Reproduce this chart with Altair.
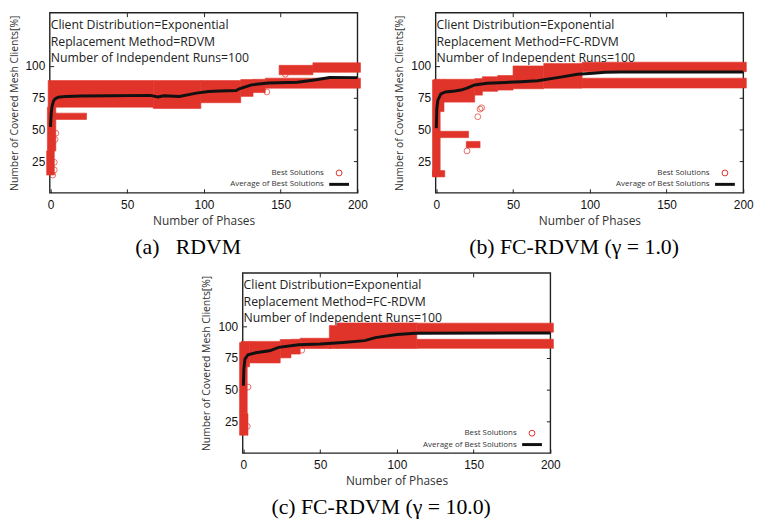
import altair as alt
import pandas as pd

RED = "#e0342a"
W, H = 311, 182
XDOM = [-0.5, 200]
YDOM = [0, 142]
X_TICKS = [0, 50, 100, 150, 200]
Y_TICKS = [25, 50, 75, 100]
SERIES = ["Best Solutions", "Average of Best Solutions"]

# ---------- panel (a) RDVM ----------
a_blk_x0 = [-2.5, -2, -1.5, 67, 98, 124, 132, 140, 149, 171, 1]
a_blk_x1 = [2.5, 3.5, 67, 98, 124, 132, 140, 202, 171, 202, 23.5]
a_blk_y0 = [14, 33, 67.5, 66.5, 71, 76, 79, 82.5, 93, 95, 57.8]
a_blk_y1 = [33, 67.5, 88.5, 88.5, 88.5, 89.3, 89.5, 90.4, 100.5, 102.5, 62.8]
a_out_x = [1.5, 2.5, 2.5, 3, 3.5, 141, 153]
a_out_y = [14, 18, 24, 42, 47, 79.5, 93.5]
a_avg_x = [0, 0.5, 1, 2, 3, 5, 10, 20, 40, 65, 70, 74, 84, 95, 103, 110, 121, 123, 131, 142, 161, 172, 182, 200]
a_avg_y = [52, 63, 68, 72.5, 74, 75.3, 76, 76.3, 76.5, 76.8, 75.5, 76.5, 76, 78.6, 79.8, 80.2, 80.7, 82, 85.1, 86.5, 87.2, 89, 90.9, 90.8]

# ---------- panel (b) FC-RDVM gamma=1.0 ----------
b_blk_x0 = [-2.5, -1.5, 5, 25, 30, 40, 50, 70, 95, 95, 1, 19.5, -2.5]
b_blk_x1 = [2.5, 5, 25, 30, 40, 50, 70, 95, 202, 202, 21, 28.5, 5.5]
b_blk_y0 = [13, 64, 71.5, 77, 80, 81, 82, 82.5, 82.6, 95.5, 43.5, 35.5, 12.5]
b_blk_y1 = [89, 89.5, 89.5, 90, 91.5, 92.5, 100, 102, 90.4, 103, 48.5, 40.5, 17.5]
b_out_x = [20, 27, 28.5, 29.5]
b_out_y = [33, 60, 66, 67]
b_avg_x = [0, 0.3, 1, 3, 6, 12, 16, 20, 25, 33, 45, 55, 66, 80, 92, 102, 110, 120, 200]
b_avg_y = [51, 66, 73, 78, 79.5, 80.2, 81, 82.5, 85, 86.3, 87, 87.5, 88.3, 91, 93.5, 94.3, 95, 95.2, 95.2]

# ---------- panel (c) FC-RDVM gamma=10.0 ----------
c_blk_x0 = [-2.5, -2.5, -1.5, 4, 24, 31, 37, 56, 61, 113, 113]
c_blk_x1 = [3, 2.5, 4, 24, 31, 37, 57, 61, 113, 202, 202]
c_blk_y0 = [14, 31, 68, 71, 75, 78, 82.4, 82.4, 82.4, 82.5, 95.3]
c_blk_y1 = [31, 87, 88, 88, 89.5, 89.7, 90.5, 100.5, 102.6, 89.7, 102.4]
c_out_x = [3, 38, 2.5]
c_out_y = [52, 81, 21]
c_avg_x = [0, 0.3, 1, 3, 8, 17, 23, 36, 50, 65, 79, 86, 100, 112, 200]
c_avg_y = [53, 66, 74, 77.5, 79, 80.6, 83.3, 85.3, 86, 87.2, 88.6, 91, 93.5, 94.5, 94.6]

methods = ["RDVM", "FC-RDVM", "FC-RDVM"]
captions = ["(a)\u00a0\u00a0\u00a0RDVM", "(b) FC-RDVM (\u03b3 = 1.0)", "(c) FC-RDVM (\u03b3 = 10.0)"]


def panel(bx0, bx1, by0, by1, ox, oy, axx, axy, method, caption):
    xs = alt.Scale(domain=XDOM, nice=False, zero=False)
    ys = alt.Scale(domain=YDOM, nice=False, zero=False)
    lab = dict(labelFont="Liberation Sans", labelFontSize=12, labelColor="#111")
    main_x = alt.Axis(title="Number of Phases", values=X_TICKS, ticks=False, tickSize=0,
                      domain=False, grid=False, labelFlush=False, labelPadding=7,
                      titleFont="Open Sans", titleFontSize=12, titleFontWeight="normal",
                      titleColor="#333", titlePadding=5, **lab)
    main_y = alt.Axis(title="Number of Covered Mesh Clients[%]", values=Y_TICKS, ticks=False,
                      tickSize=0, domain=False, grid=False, labelPadding=5,
                      titleFont="Open Sans", titleFontSize=10.5, titleFontWeight="normal",
                      titleColor="#333", titlePadding=6, **lab)
    tk = dict(labels=False, domain=False, grid=False, ticks=True, tickSize=4,
              tickColor="#222", tickWidth=1, title=None)
    in_bottom = alt.Axis(orient="top", offset=-H, values=X_TICKS, **tk)
    in_top = alt.Axis(orient="bottom", offset=-H, values=X_TICKS[1:-1], **tk)
    in_left = alt.Axis(orient="right", offset=-W, values=Y_TICKS, **tk)
    in_right = alt.Axis(orient="left", offset=-W, values=Y_TICKS, **tk)

    legend = alt.Legend(title=None, orient="none", legendX=286, legendY=158,
                        labelAlign="right", labelOffset={"expr": "-22"},
                        rowPadding=0, padding=0, labelFont="Open Sans",
                        labelFontSize=8, labelColor="#333", symbolOffset=0,
                        symbolOpacity=1)
    cs = alt.Scale(domain=SERIES, range=[RED, "#111111"])
    ss = alt.Scale(domain=SERIES, range=["circle", "M-2,0H2"])
    zs = alt.Scale(domain=SERIES, range=[35, 100])
    ws = alt.Scale(domain=SERIES, range=[1, 3])

    df_b = pd.DataFrame({"x0": bx0, "x1": bx1, "y0": by0, "y1": by1})
    df_p = pd.DataFrame({"x": ox, "y": oy, "series": SERIES[0]})
    df_l = pd.DataFrame({"x": axx, "y": axy, "series": SERIES[1]})

    blocks = alt.Chart(df_b).mark_rect(color=RED, stroke=RED, strokeWidth=0.6).encode(
        x=alt.X("x0:Q", scale=xs, axis=main_x), x2="x1:Q",
        y=alt.Y("y0:Q", scale=ys, axis=main_y), y2="y1:Q")
    pts = alt.Chart(df_p).mark_point(filled=False, shape="circle").encode(
        x=alt.X("x:Q", scale=xs, axis=in_bottom),
        y=alt.Y("y:Q", scale=ys, axis=in_left),
        color=alt.Color("series:N", scale=cs, legend=legend),
        shape=alt.Shape("series:N", scale=ss, legend=legend),
        size=alt.Size("series:N", scale=zs, legend=legend),
        strokeWidth=alt.StrokeWidth("series:N", scale=ws, legend=legend))
    line = alt.Chart(df_l).mark_line().encode(
        x=alt.X("x:Q", scale=xs, axis=in_top),
        y=alt.Y("y:Q", scale=ys, axis=in_right),
        color=alt.Color("series:N", scale=cs, legend=legend),
        strokeWidth=alt.StrokeWidth("series:N", scale=ws, legend=legend))
    note = alt.Chart(pd.DataFrame({"k": [0]})).mark_text(
        align="left", baseline="top", font="Open Sans", fontSize=12.4,
        color="#222", lineHeight=16.7).encode(
        x=alt.value(1), y=alt.value(6.5),
        text=alt.value(["Client Distribution=Exponential",
                        "Replacement Method=" + method,
                        "Number of Independent Runs=100"]))
    return alt.layer(blocks, pts, line, note).resolve_axis(
        x="independent", y="independent").properties(
        width=W, height=H,
        title=alt.TitleParams(caption, orient="bottom", anchor="middle", frame="bounds",
                              font="Liberation Serif", fontSize=22, fontWeight="normal",
                              color="#000", offset=11))


pa = panel(a_blk_x0, a_blk_x1, a_blk_y0, a_blk_y1, a_out_x, a_out_y, a_avg_x, a_avg_y, methods[0], captions[0])
pb = panel(b_blk_x0, b_blk_x1, b_blk_y0, b_blk_y1, b_out_x, b_out_y, b_avg_x, b_avg_y, methods[1], captions[1])
pc = panel(c_blk_x0, c_blk_x1, c_blk_y0, c_blk_y1, c_out_x, c_out_y, c_avg_x, c_avg_y, methods[2], captions[2])

res = dict(color="independent", shape="independent", size="independent", strokeWidth="independent")
top = alt.hconcat(pa, pb, spacing=26).resolve_scale(**res).resolve_legend(**res)
chart = alt.vconcat(top, pc, spacing=12, center=True).resolve_scale(**res).resolve_legend(**res)
chart = chart.properties(padding=0).configure_view(stroke="#222", strokeWidth=1.4)

chart.save("out.html", embed_options={"renderer": "svg", "actions": False})
